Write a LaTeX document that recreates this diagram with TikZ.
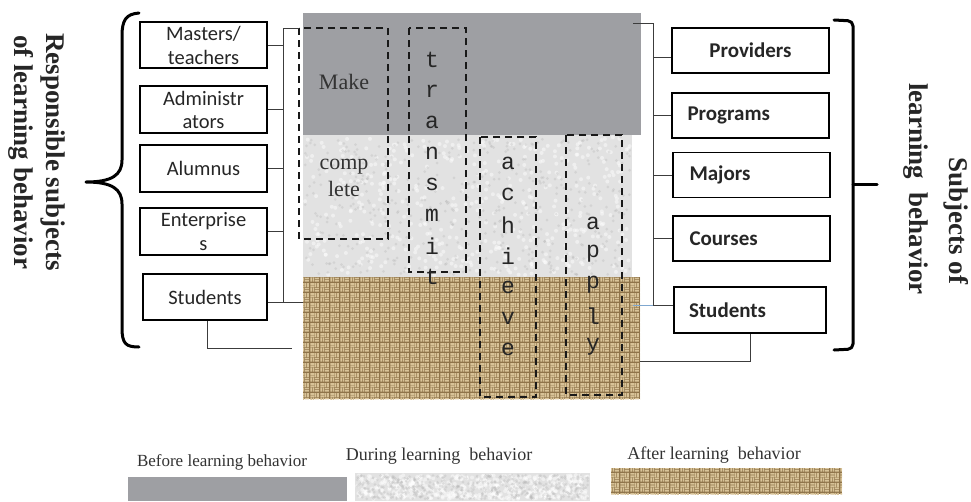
\documentclass[tikz,border=0pt]{standalone}
\usepackage{fontspec}
\setmainfont{Liberation Serif}
\newfontfamily\boxfont{Carlito}
\newfontfamily\monofont{Liberation Mono}
\usetikzlibrary{patterns}

\definecolor{beforegray}{HTML}{9E9FA3}
\definecolor{duringgray}{HTML}{E2E2E2}
\definecolor{burlapdark}{HTML}{8F744A}
\definecolor{burlaplight}{HTML}{D8C398}
\definecolor{conngray}{HTML}{3C3C3C}
\definecolor{textgray}{HTML}{333333}
\definecolor{tickblue}{HTML}{7FA7CF}

\pgfdeclarepatternformonly{weave}{\pgfqpoint{0pt}{0pt}}{\pgfqpoint{10pt}{10pt}}{\pgfqpoint{10pt}{10pt}}{%
  \pgfsetlinewidth{1.8pt}%
  \pgfpathmoveto{\pgfqpoint{0.3pt}{6.2pt}}\pgfpathlineto{\pgfqpoint{4.7pt}{6.2pt}}%
  \pgfpathmoveto{\pgfqpoint{0.3pt}{8.7pt}}\pgfpathlineto{\pgfqpoint{4.7pt}{8.7pt}}%
  \pgfpathmoveto{\pgfqpoint{5.3pt}{1.2pt}}\pgfpathlineto{\pgfqpoint{9.7pt}{1.2pt}}%
  \pgfpathmoveto{\pgfqpoint{5.3pt}{3.7pt}}\pgfpathlineto{\pgfqpoint{9.7pt}{3.7pt}}%
  \pgfpathmoveto{\pgfqpoint{6.2pt}{5.3pt}}\pgfpathlineto{\pgfqpoint{6.2pt}{9.7pt}}%
  \pgfpathmoveto{\pgfqpoint{8.7pt}{5.3pt}}\pgfpathlineto{\pgfqpoint{8.7pt}{9.7pt}}%
  \pgfpathmoveto{\pgfqpoint{1.2pt}{0.3pt}}\pgfpathlineto{\pgfqpoint{1.2pt}{4.7pt}}%
  \pgfpathmoveto{\pgfqpoint{3.7pt}{0.3pt}}\pgfpathlineto{\pgfqpoint{3.7pt}{4.7pt}}%
  \pgfusepath{stroke}%
}

\tikzset{
  subjbox/.style={draw=black, line width=1.8pt, rectangle, inner sep=0pt},
  leftbox/.style={subjbox, font=\boxfont\fontsize{20.5}{24}\selectfont, align=center,
    text=black!85},
  rightbox/.style={subjbox, font=\boxfont\bfseries\fontsize{21}{24}\selectfont,
    text=black!85, minimum height=45pt},
  conn/.style={draw=conngray, line width=1pt},
  dashbox/.style={draw=black!90, line width=2pt, dash pattern=on 7pt off 5pt},
  letter/.style={font=\monofont\fontsize{23}{23}\selectfont, inner sep=0pt, text=black!85},
  midtext/.style={font=\fontsize{22}{27}\selectfont, align=center, text=textgray, inner sep=0pt},
  sidelabel/.style={font=\bfseries\fontsize{27}{31}\selectfont, rotate=-90, inner sep=0pt, text=black!85},
  legendtext/.style={font=\fontsize{18}{20}\selectfont, text=textgray, inner sep=0pt},
  bracestyle/.style={line width=3pt, line cap=round, line join=round}
}

\newcommand{\duringtexture}[4]{%
  \fill[duringgray] (#1,#2) rectangle (#3,#4);
  \pgfmathsetseed{17}
  \foreach \k in {1,...,450}{
    \pgfmathsetmacro\rx{#1+2+(#3-#1-4)*rnd}
    \pgfmathsetmacro\ry{#2+2+(#4-#2-4)*rnd}
    \fill[white, opacity=0.45] (\rx,\ry) circle (2pt);
  }
  \foreach \k in {1,...,450}{
    \pgfmathsetmacro\rx{#1+2+(#3-#1-4)*rnd}
    \pgfmathsetmacro\ry{#2+2+(#4-#2-4)*rnd}
    \fill[black!30, opacity=0.3] (\rx,\ry) circle (1.5pt);
  }
}
\newcommand{\burlaptexture}[4]{%
  \fill[burlapdark] (#1,#2) rectangle (#3,#4);
  \fill[pattern=weave, pattern color=burlaplight] (#1,#2) rectangle (#3,#4);
}

\begin{document}
\begin{tikzpicture}[x=1pt, y=-1pt]
\useasboundingbox (0,0) rectangle (971,501);
\fill[white] (0,0) rectangle (971,501);

% ---------- central block ----------
\fill[beforegray] (303,13) rectangle (641,135);
\duringtexture{303}{135}{632}{277}
\burlaptexture{303}{277}{640}{399}

% dashed boxes
\draw[dashbox] (299,28) rectangle (388,239);
\draw[dashbox] (409,28) rectangle (466,272);
\draw[dashbox] (480,137) rectangle (536,397);
\draw[dashbox] (566,135) rectangle (622,395);
\coordinate (mk) at (299,28);

\node[midtext] (make) at (344,82) {Make};
\node[midtext] (complete) at (344,178) {comp\\lete};

\foreach \c [count=\i] in {t,r,a,n,s,m,i,t}
  \node[letter] (tr\i) at (432,29+31*\i) {\c};
\foreach \c [count=\i] in {a,c,h,i,e,v,e}
  \node[letter] (ac\i) at (508,132+31*\i) {\c};
\foreach \c [count=\i] in {a,p,p,l,y}
  \node[letter] (ap\i) at (593,192+31*\i) {\c};

% ---------- left boxes ----------
\node[leftbox, minimum width=127pt, minimum height=46pt] (lm) at (203.5,45) {Masters/\\teachers};
\node[leftbox, minimum width=127pt, minimum height=47pt] (la) at (203.5,109.5) {Administr\\[-1pt]ators};
\node[leftbox, minimum width=127pt, minimum height=47pt] (lal) at (203.5,168.5) {Alumnus};
\node[leftbox, minimum width=127pt, minimum height=47pt] (le) at (203.5,231.5) {Enterprise\\s};
\node[leftbox, minimum width=124pt, minimum height=46pt] (ls) at (205,297) {Students};

% ---------- right boxes ----------
\node[rightbox, minimum width=157pt] (rp) at (750.5,50.5) {Providers};
\node[rightbox, text width=126pt, inner xsep=15.5pt, align=left] (rpg) at (750.5,115.5) {Programs};
\node[rightbox, text width=124pt, inner xsep=16.5pt, align=left] (rm) at (751.5,175) {Majors};
\node[rightbox, text width=124pt, inner xsep=16.5pt, align=left] (rc) at (751.5,238.5) {Courses};
\node[rightbox, text width=122pt, inner xsep=15pt, align=left, minimum height=46pt] (rs) at (750,310) {Students};

% ---------- left connectors ----------
\coordinate (lvt) at (283,28);
\coordinate (lvb) at (283,302);
\coordinate (lburl) at (303,302);
\draw[conn] (lvt) -- (lvb) -- (lburl);
\draw[conn] (lvt) -- (mk);
\foreach \n in {lm,la,lal,le}
  \draw[conn] (\n.east) -- (lvt |- \n.east);
\draw[conn] (ls.east |- lvb) -- (lvb);
\coordinate (lsb) at (207,348);
\coordinate (lse) at (292,348);
\draw[conn] (ls.south -| lsb) -- (lsb) -- (lse);

% ---------- right connectors ----------
\coordinate (rvt) at (653,23);
\coordinate (rgray) at (633,23);
\coordinate (rvb) at (653,305);
\coordinate (rblue) at (633,305);
\draw[conn] (rgray) -- (rvt) -- (rvb);
\draw[conn] (rvt |- 0,57) -- (rp.west |- 0,57);
\foreach \n in {rpg,rm,rc}
  \draw[conn] (rvt |- \n.west) -- (\n.west);
\draw[draw=tickblue, line width=1pt] (rblue) -- (rvb);
\draw[conn] (rvb) -- (rs.west |- rvb);
\coordinate (rsb) at (750,361);
\coordinate (rse) at (640,361);
\draw[conn] (rs.south) -- (rsb) -- (rse);

% ---------- braces ----------
\draw[bracestyle] (139,13) .. controls (126,14) and (122,20) .. (122,36)
  -- (122,160) .. controls (122,175) and (112,182) .. (86,182)
  .. controls (112,182) and (122,189) .. (122,204)
  -- (122,328) .. controls (122,344) and (126,347) .. (139,347);
\draw[bracestyle, rounded corners=5pt] (834,20) -- (853,21) -- (853,349) -- (834,350);
\draw[bracestyle] (853,184) -- (877,184);

% ---------- side labels ----------
\node[sidelabel] (lab1) at (53,152) {Responsible subjects};
\node[sidelabel] (lab2) at (21,152) {of learning behavior};
\node[sidelabel] (lab3) at (956,221) {Subjects of};
\node[sidelabel] (lab4) at (916,189) {learning\ \ behavior};

% ---------- legend ----------
\fill[beforegray] (128,477) rectangle (347,501);
\duringtexture{355}{473}{590}{501}
\burlaptexture{611}{468}{842}{494}
\node[legendtext, font=\fontsize{17}{20}\selectfont] (lg1) at (222,462) {Before learning behavior};
\node[legendtext] (lg2) at (439,456) {During learning\ \ behavior};
\node[legendtext] (lg3) at (714,455) {After learning\ \ behavior};
\end{tikzpicture}
\end{document}
